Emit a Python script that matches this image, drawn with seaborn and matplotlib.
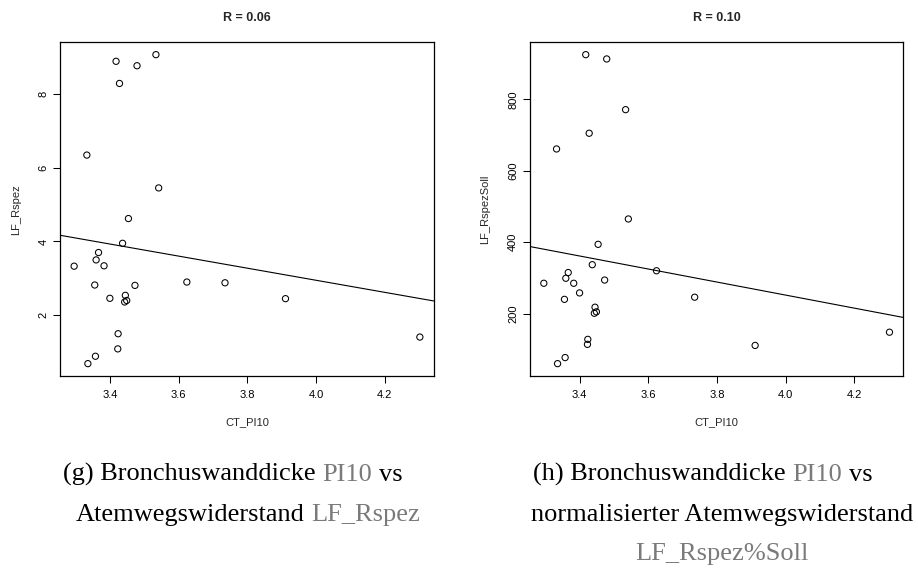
import numpy as np
import pandas as pd
import matplotlib
matplotlib.use("Agg")
import matplotlib.pyplot as plt
import seaborn as sns
from matplotlib.transforms import IdentityTransform

# ---------------- data ----------------
ct_pi10 = [3.296, 3.333, 3.336, 3.356, 3.358, 3.360, 3.367, 3.383, 3.400,
           3.418, 3.423, 3.424, 3.428, 3.437, 3.445, 3.443, 3.449, 3.454,
           3.473, 3.479, 3.534, 3.542, 3.624, 3.735, 3.911, 4.302]
lf_rspez = [3.33, 6.34, 0.69, 2.82, 0.89, 3.50, 3.70, 3.34, 2.46,
            8.88, 1.09, 1.50, 8.28, 3.95, 2.54, 2.36, 2.40, 4.62,
            2.81, 8.76, 9.06, 5.45, 2.90, 2.88, 2.45, 1.41]
lf_rspez_soll = [285, 661, 60, 240, 77, 299, 315, 285, 258,
                 925, 114, 128, 705, 337, 218, 201, 205, 394,
                 294, 913, 771, 465, 320, 246, 111, 148]

titles = ["R = 0.06", "R = 0.10"]
y_columns = ["LF_Rspez", "LF_RspezSoll"]
x_ticks = [3.4, 3.6, 3.8, 4.0, 4.2]
y_ticks_list = [[2, 4, 6, 8], [200, 400, 600, 800]]

caption_g = [[("(g) Bronchuswanddicke", "k"), ("PI10", "g"), ("vs", "k")],
             [("Atemwegswiderstand", "k"), ("LF_Rspez", "g")]]
caption_h = [[("(h) Bronchuswanddicke", "k"), ("PI10", "g"), ("vs", "k")],
             [("normalisierter Atemwegswiderstand", "k")],
             [("LF_Rspez%Soll", "g")]]

df = pd.DataFrame({"CT_PI10": ct_pi10,
                   "LF_Rspez": lf_rspez,
                   "LF_RspezSoll": lf_rspez_soll})

# ---------------- style ----------------
sns.set_style("ticks")
plt.rcParams["font.family"] = ["Liberation Sans", "DejaVu Sans"]
plt.rcParams["axes.edgecolor"] = "black"
plt.rcParams["axes.linewidth"] = 0.9

W, H = 918, 568
fig = plt.figure(figsize=(W / 100, H / 100), dpi=100)
fig.patch.set_facecolor("white")


def add_ax(l, t, r, b):
    return fig.add_axes([l / W, 1 - b / H, (r - l) / W, (b - t) / H])


axes = [add_ax(60.3, 42.3, 433.7, 376.0), add_ax(530.0, 42.3, 903.3, 376.0)]

for ax, ycol, title, yticks in zip(axes, y_columns, titles, y_ticks_list):
    x = df["CT_PI10"]
    y = df[ycol]
    xr = x.max() - x.min()
    yr = y.max() - y.min()
    ax.set_xlim(x.min() - 0.04 * xr, x.max() + 0.04 * xr)
    ax.set_ylim(y.min() - 0.04 * yr, y.max() + 0.04 * yr)

    sns.scatterplot(data=df, x="CT_PI10", y=ycol, ax=ax, marker="o", s=20,
                    facecolor="none", edgecolor="black", linewidth=0.75,
                    zorder=3)
    sns.regplot(data=df, x="CT_PI10", y=ycol, ax=ax, scatter=False, ci=None,
                truncate=False, color="black", line_kws={"linewidth": 0.8})

    ax.set_xticks(x_ticks)
    ax.set_xticklabels([f"{v:.1f}" for v in x_ticks])
    ax.set_yticks(yticks)
    ax.set_yticklabels([str(v) for v in yticks])
    ax.tick_params(axis="both", direction="out", length=5, width=0.75,
                   labelsize=8, colors="black")
    ax.tick_params(axis="x", pad=5)
    ax.tick_params(axis="y", pad=3.5, labelrotation=90)
    for lab in ax.get_yticklabels():
        lab.set_va("center")

    ax.set_xlabel("CT_PI10", fontsize=8)
    ax.xaxis.set_label_coords(0.5, -0.137)
    ax.xaxis.label.set_va("center")
    ax.set_ylabel(ycol, fontsize=8)
    ax.yaxis.set_label_coords(-0.119, 0.5)
    ax.yaxis.label.set_va("center")
    ax.set_title(title, fontsize=9, fontweight="bold", pad=15.5)
    for s in ax.spines.values():
        s.set_visible(True)
        s.set_color("black")
        s.set_linewidth(0.9)
    ax.grid(False)

# ---------------- captions ----------------
fig.canvas.draw()
renderer = fig.canvas.get_renderer()
GRAY = "#7a7a7a"
CAP_FS = 19
CAP_FAMILY = ["Liberation Serif", "DejaVu Serif"]


def text_width(s):
    t = fig.text(0, 0, s, fontsize=CAP_FS, family=CAP_FAMILY,
                 transform=IdentityTransform())
    w = t.get_window_extent(renderer).width
    t.remove()
    return w


space_w = text_width("x x") - text_width("xx")


def rich_line(pieces, cx, baseline_y):
    widths = [text_width(s) for s, _ in pieces]
    total = sum(widths) + space_w * (len(pieces) - 1)
    xpos = cx - total / 2
    for (s, c), w in zip(pieces, widths):
        fig.text(xpos, H - baseline_y, s, fontsize=CAP_FS, family=CAP_FAMILY,
                 color=(GRAY if c == "g" else "black"), ha="left",
                 va="baseline", transform=IdentityTransform())
        xpos += w + space_w


rich_line(caption_g[0], 233, 480.7)
rich_line(caption_g[1], 248, 520.5)
rich_line(caption_h[0], 703, 480.7)
rich_line(caption_h[1], 722, 520.5)
rich_line(caption_h[2], 722, 560.0)

fig.savefig("out.png", dpi=100, facecolor="white")
